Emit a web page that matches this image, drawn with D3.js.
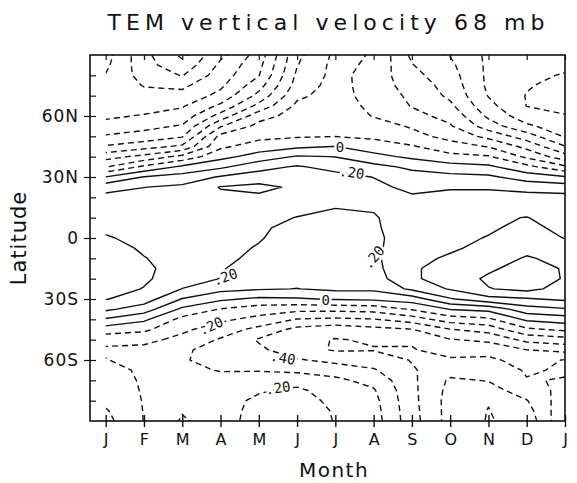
<!DOCTYPE html>
<html>
<head>
<meta charset="utf-8">
<script src="https://cdn.jsdelivr.net/npm/d3@7"></script>
<style>
  body { margin: 0; background: #fff; }
  text { font-family: "DejaVu Sans", sans-serif; fill: #111; }
</style>
</head>
<body>
<div id="chart"></div>
<script>
// month tick labels (Jan .. Jan)
const months = ["J", "F", "M", "A", "M", "J", "J", "A", "S", "O", "N", "D", "J"];

// grid rows, 90N .. 90S
const lats = [90, 85, 80, 75, 70, 65, 60, 55, 50, 45, 40, 35, 30, 25, 20, 15, 10, 5, 0,
  -5, -10, -15, -20, -25, -30, -35, -40, -45, -50, -55, -60, -65, -70, -75, -80, -85, -90];

// w* (mm/s) per month, one value per latitude row
const jan = [-0.66, -0.68, -0.705, -0.73, -0.76, -0.76, -0.72, -0.66, -0.59, -0.49, -0.34, -0.205, 0.003, 0.16, 0.23, 0.25, 0.27, 0.29, 0.305,
  0.33, 0.35, 0.36, 0.36, 0.34, 0.305, 0.22, 0.09, -0.05, -0.16, -0.22, -0.195, -0.17, -0.16, -0.15, -0.13, -0.09, -0.07];
const feb = [-0.87, -0.86, -0.84, -0.805, -0.77, -0.75, -0.69, -0.63, -0.56, -0.44, -0.27, -0.08, 0.105, 0.198, 0.24, 0.25, 0.27, 0.28, 0.285,
  0.29, 0.303, 0.318, 0.314, 0.296, 0.25, 0.15, 0.02, -0.08, -0.17, -0.23, -0.245, -0.215, -0.21, -0.207, -0.205, -0.204, -0.203];
const mar = [-1.02, -0.97, -0.905, -0.82, -0.77, -0.71, -0.66, -0.59, -0.51, -0.38, -0.17, 0.02, 0.14, 0.22, 0.24, 0.26, 0.27, 0.27, 0.27,
  0.27, 0.27, 0.26, 0.25, 0.198, 0.095, -0.02, -0.13, -0.18, -0.23, -0.28, -0.29, -0.28, -0.27, -0.26, -0.27, -0.295, -0.31];
const apr = [-0.82, -0.78, -0.75, -0.72, -0.67, -0.58, -0.46, -0.31, -0.17, -0.12, -0.03, 0.08, 0.21, 0.305, 0.28, 0.26, 0.24, 0.23, 0.22,
  0.22, 0.21, 0.205, 0.198, 0.13, 0.02, -0.105, -0.18, -0.25, -0.31, -0.35, -0.34, -0.305, -0.27, -0.25, -0.24, -0.25, -0.25];
const may = [-0.66, -0.63, -0.605, -0.54, -0.47, -0.37, -0.24, -0.17, -0.13, -0.05, 0.04, 0.17, 0.24, 0.33, 0.28, 0.24, 0.22, 0.21, 0.205,
  0.195, 0.19, 0.17, 0.14, 0.11, -0.02, -0.15, -0.23, -0.33, -0.41, -0.38, -0.34, -0.305, -0.26, -0.21, -0.18, -0.16, -0.15];
const jun = [-0.32, -0.305, -0.28, -0.26, -0.22, -0.18, -0.16, -0.14, -0.11, -0.02, 0.11, 0.21, 0.25, 0.28, 0.24, 0.22, 0.198, 0.18, 0.17,
  0.16, 0.15, 0.14, 0.13, 0.098, -0.01, -0.17, -0.305, -0.43, -0.47, -0.46, -0.39, -0.32, -0.24, -0.18, -0.15, -0.14, -0.14];
const jul = [-0.18, -0.17, -0.17, -0.16, -0.16, -0.15, -0.14, -0.13, -0.102, 0.002, 0.098, 0.17, 0.23, 0.24, 0.23, 0.201, 0.19, 0.18, 0.17,
  0.16, 0.15, 0.14, 0.13, 0.12, 0.01, -0.17, -0.32, -0.46, -0.505, -0.51, -0.43, -0.34, -0.28, -0.25, -0.23, -0.21, -0.205];
const aug = [-0.205, -0.22, -0.24, -0.25, -0.24, -0.225, -0.205, -0.16, -0.12, -0.05, 0.03, 0.13, 0.198, 0.22, 0.22, 0.205, 0.195, 0.19, 0.18,
  0.18, 0.18, 0.17, 0.15, 0.12, 0.02, -0.16, -0.305, -0.43, -0.49, -0.505, -0.45, -0.39, -0.33, -0.29, -0.27, -0.26, -0.253];
const sep = [-0.42, -0.395, -0.37, -0.34, -0.32, -0.305, -0.27, -0.21, -0.17, -0.09, -0.02, 0.08, 0.14, 0.18, 0.21, 0.22, 0.23, 0.24, 0.25,
  0.26, 0.28, 0.29, 0.29, 0.22, 0.05, -0.09, -0.25, -0.405, -0.49, -0.505, -0.505, -0.49, -0.48, -0.475, -0.47, -0.465, -0.46];
const oct = [-0.505, -0.48, -0.46, -0.44, -0.42, -0.38, -0.33, -0.29, -0.23, -0.16, -0.07, 0.04, 0.13, 0.19, 0.23, 0.25, 0.27, 0.29, 0.29,
  0.29, 0.31, 0.33, 0.33, 0.31, 0.19, 0.005, -0.15, -0.305, -0.405, -0.47, -0.51, -0.56, -0.615, -0.63, -0.64, -0.64, -0.64];
const nov = [-0.62, -0.62, -0.62, -0.62, -0.605, -0.57, -0.52, -0.45, -0.33, -0.205, -0.09, 0.02, 0.12, 0.19, 0.23, 0.26, 0.29, 0.295, 0.302,
  0.32, 0.35, 0.38, 0.42, 0.395, 0.27, 0.03, -0.12, -0.26, -0.38, -0.46, -0.52, -0.56, -0.595, -0.64, -0.695, -0.703, -0.706];
const dec = [-0.64, -0.65, -0.67, -0.69, -0.705, -0.702, -0.66, -0.58, -0.45, -0.33, -0.22, -0.07, 0.05, 0.17, 0.23, 0.27, 0.302, 0.31, 0.33,
  0.37, 0.41, 0.45, 0.47, 0.43, 0.29, 0.16, 0.02, -0.12, -0.27, -0.4, -0.46, -0.49, -0.505, -0.55, -0.605, -0.64, -0.67];
const janEnd = [-0.64, -0.67, -0.71, -0.74, -0.76, -0.75, -0.69, -0.66, -0.61, -0.495, -0.36, -0.18, 0.01, 0.15, 0.23, 0.25, 0.27, 0.29, 0.298,
  0.34, 0.37, 0.39, 0.39, 0.36, 0.32, 0.19, 0.05, -0.08, -0.24, -0.37, -0.505, -0.51, -0.495, -0.47, -0.44, -0.42, -0.405];

const columns = [jan, feb, mar, apr, may, jun, jul, aug, sep, oct, nov, dec, janEnd];

const levels = [-1.0, -0.9, -0.8, -0.7, -0.6, -0.5, -0.4, -0.3, -0.2, -0.1, 0, 0.1, 0.2, 0.3, 0.4];

// contour labels: text, month, latitude, rotation
const labels = [
  ["0", 6.12, 44.8, 0], [".20", 6.43, 32.2, 8],
  [".20", 3.12, -19.2, -20], [".20", 7.0, -9.5, -50], ["0", 5.75, -30.5, 0],
  [".20", 2.75, -43.3, -25], [".40", 4.63, -59, 10], [".20", 4.5, -73.8, -8]
];

const svg = d3.select("#chart").append("svg")
  .attr("width", 577).attr("height", 483);

const x = d3.scaleLinear().domain([-0.41, 12]).range([90, 565]);
const y = d3.scaleLinear().domain([-90, 90]).range([421, 55]);

// data only run from the first January to the last one
svg.append("clipPath").attr("id", "plot-clip")
  .append("rect")
  .attr("x", x(0)).attr("y", y(90))
  .attr("width", x(12) - x(0)).attr("height", y(-90) - y(90));

// grid -> contours
const nx = columns.length, ny = lats.length;
const values = [];
for (let r = 0; r < ny; r++)
  for (let c = 0; c < nx; c++) values.push(columns[c][r]);

const colScale = d3.scaleLinear().domain([0, nx - 1]).range([0, 12]);
const rowScale = d3.scaleLinear().domain([0, ny - 1]).range([lats[0], lats[ny - 1]]);

const contours = d3.contours().size([nx, ny]).thresholds(levels)(values);

const path = d3.geoPath(d3.geoTransform({
  point: function(px, py) {
    this.stream.point(x(colScale(px - 0.5)), y(rowScale(py - 0.5)));
  }
}));

const plot = svg.append("g").attr("clip-path", "url(#plot-clip)");

plot.selectAll("path")
  .data(contours)
  .enter()
  .append("path")
  .attr("d", path)
  .attr("fill", "none")
  .attr("stroke", "#111")
  .attr("stroke-width", 1.4)
  .attr("stroke-linejoin", "round")
  .attr("stroke-dasharray", d => d.value < -1e-9 ? "6,4" : null);

// contour labels with a white halo to break the line
plot.selectAll(".clab")
  .data(labels)
  .enter()
  .append("text")
  .attr("class", "clab")
  .attr("transform", d => "translate(" + x(d[1]) + "," + y(d[2]) + ") rotate(" + d[3] + ")")
  .attr("text-anchor", "middle")
  .attr("dy", "0.35em")
  .attr("font-size", 14)
  .style("font-family", "DejaVu Sans Mono")
  .attr("stroke", "#fff")
  .attr("stroke-width", 5)
  .attr("paint-order", "stroke")
  .text(d => d[0]);

// frame
svg.append("rect")
  .attr("x", 90).attr("y", 55).attr("width", 475).attr("height", 366)
  .attr("fill", "none").attr("stroke", "#111").attr("stroke-width", 1.6);

// bottom axis: ticks cross the frame
const monthTicks = d3.range(0, 13);
svg.append("g")
  .attr("transform", "translate(0,421)")
  .call(d3.axisBottom(x).tickValues(monthTicks).tickFormat((d, i) => months[i]).tickSizeInner(6).tickSizeOuter(0))
  .call(g => g.select(".domain").remove())
  .call(g => g.selectAll("line").attr("y1", -6).attr("stroke", "#111").attr("stroke-width", 1.4))
  .call(g => g.selectAll("text").attr("font-size", 16).attr("dy", "0.95em").attr("fill", "#111")
    .style("font-family", "DejaVu Sans"));

// top axis: inward ticks
svg.append("g")
  .attr("transform", "translate(0,55)")
  .call(d3.axisTop(x).tickValues(monthTicks).tickFormat("").tickSizeInner(-5).tickSizeOuter(0))
  .call(g => g.select(".domain").remove())
  .call(g => g.selectAll("line").attr("stroke", "#111").attr("stroke-width", 1.2));

// left axis: minor ticks inward every 10 deg, labelled ones outward
const latMinor = [80, 70, 60, 50, 40, 30, 20, 10, 0, -10, -20, -30, -40, -50, -60, -70, -80];
const latMajor = [60, 30, 0, -30, -60];
const latName = d => d === 0 ? "0" : Math.abs(d) + (d > 0 ? "N" : "S");

svg.append("g")
  .attr("transform", "translate(90,0)")
  .call(d3.axisLeft(y).tickValues(latMinor).tickFormat("").tickSizeInner(-6).tickSizeOuter(0))
  .call(g => g.select(".domain").remove())
  .call(g => g.selectAll("line").attr("stroke", "#111").attr("stroke-width", 1.2));

svg.append("g")
  .attr("transform", "translate(90,0)")
  .call(d3.axisLeft(y).tickValues(latMajor).tickFormat(latName).tickSizeInner(6).tickSizeOuter(0).tickPadding(5))
  .call(g => g.select(".domain").remove())
  .call(g => g.selectAll("line").attr("stroke", "#111").attr("stroke-width", 1.2))
  .call(g => g.selectAll("text").attr("font-size", 17).attr("letter-spacing", 1).attr("fill", "#111")
    .style("font-family", "DejaVu Sans"));

// titles
svg.append("text")
  .attr("x", 326).attr("y", 30)
  .attr("text-anchor", "middle")
  .attr("font-size", 22)
  .attr("textLength", 437).attr("lengthAdjust", "spacing")
  .text("TEM vertical velocity 68 mb");

svg.append("text")
  .attr("x", 334).attr("y", 477)
  .attr("text-anchor", "middle")
  .attr("font-size", 20)
  .attr("letter-spacing", 1.5)
  .text("Month");

svg.append("text")
  .attr("transform", "translate(26,238) rotate(-90)")
  .attr("text-anchor", "middle")
  .attr("font-size", 21)
  .attr("letter-spacing", 1)
  .text("Latitude");
</script>
</body>
</html>
